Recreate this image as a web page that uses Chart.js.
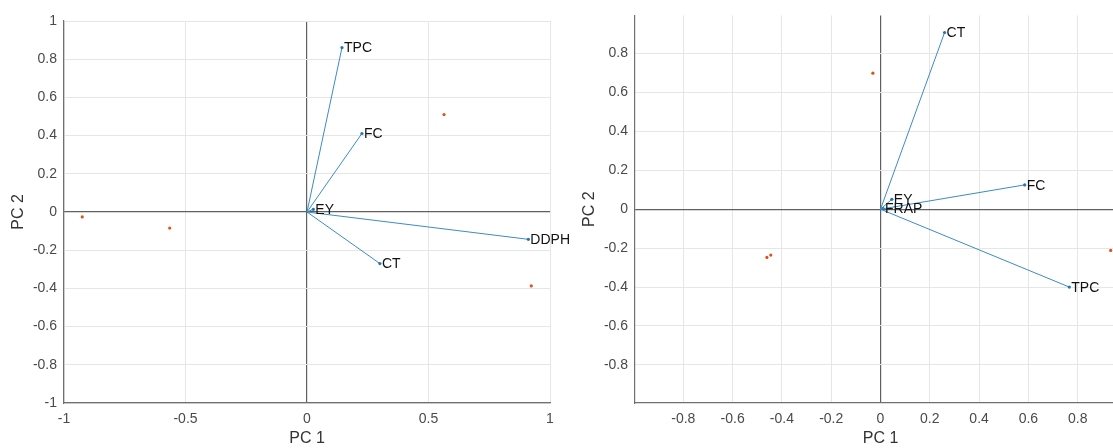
<!DOCTYPE html>
<html>
<head>
<meta charset="utf-8">
<script src="https://cdn.jsdelivr.net/npm/chart.js@4.4.1/dist/chart.umd.min.js"></script>
<style>
  html, body { margin: 0; padding: 0; background: #fff; overflow: hidden; }
  #wrap { position: relative; width: 1113px; height: 448px; overflow: hidden; }
  canvas { position: absolute; top: 0; }
  #left { left: 0; }
  #right { left: 560px; }
</style>
</head>
<body>
<div id="wrap">
  <canvas id="left" width="620" height="448"></canvas>
  <canvas id="right" width="590" height="448"></canvas>
</div>
<script>
// left biplot
const leftVarNames = ['TPC', 'FC', 'EY', 'DDPH', 'CT'];
const leftVarX = [0.144, 0.226, 0.026, 0.911, 0.300];
const leftVarY = [0.861, 0.411, 0.014, -0.143, -0.270];
const leftObsX = [-0.925, -0.565, 0.564, 0.923];
const leftObsY = [-0.026, -0.084, 0.510, -0.387];
const leftXTicks = [-1, -0.5, 0, 0.5, 1];
const leftYTicks = [-1, -0.8, -0.6, -0.4, -0.2, 0, 0.2, 0.4, 0.6, 0.8, 1];

// right biplot
const rightVarNames = ['CT', 'FC', 'EY', 'FRAP', 'TPC'];
const rightVarX = [0.260, 0.585, 0.046, 0.010, 0.766];
const rightVarY = [0.908, 0.125, 0.051, 0.005, -0.400];
const rightObsX = [-0.031, -0.461, -0.445, 0.934];
const rightObsY = [0.699, -0.248, -0.236, -0.212];
const rightXTicks = [-0.8, -0.6, -0.4, -0.2, 0, 0.2, 0.4, 0.6, 0.8];
const rightYTicks = [-0.8, -0.6, -0.4, -0.2, 0, 0.2, 0.4, 0.6, 0.8];

const BLUE = '#3a8cc4';
const RED = '#D95319';
const FONT = '"Liberation Sans", Arial, sans-serif';

const varLabels = {
    id: 'varLabels',
    afterDatasetsDraw(chart) {
        const ctx = chart.ctx;
        const names = chart.options.plugins.varLabels.names;
        ctx.save();
        ctx.font = '14px ' + FONT;
        ctx.fillStyle = '#111';
        ctx.textAlign = 'left';
        ctx.textBaseline = 'middle';
        names.forEach((name, i) => {
            const pt = chart.getDatasetMeta(i).data[1];
            ctx.fillText(name, pt.x + 2, pt.y + 1);
        });
        ctx.restore();
    }
};

function fmt(v) {
    return String(Number(v.toFixed(1)));
}

function makeBiplot(id, o) {
    const datasets = o.names.map((name, i) => ({
        label: name,
        data: [{ x: 0, y: 0 }, { x: o.vx[i], y: o.vy[i] }],
        showLine: true,
        borderColor: BLUE,
        backgroundColor: '#1f77b4',
        borderWidth: 1,
        pointRadius: [0, 1.6],
        pointBorderWidth: 0
    }));
    datasets.push({
        label: 'obs',
        data: o.ox.map((x, i) => ({ x: x, y: o.oy[i] })),
        showLine: false,
        backgroundColor: RED,
        borderColor: RED,
        pointRadius: 1.6,
        pointBorderWidth: 0
    });

    const gridColor = c => (c.tick && c.tick.value === 0) ? '#606060' : '#e6e6e6';
    const gridWidth = c => (c.tick && c.tick.value === 0) ? 1.2 : 1;

    new Chart(document.getElementById(id), {
        type: 'scatter',
        data: { datasets: datasets },
        options: {
            responsive: false,
            animation: false,
            layout: { padding: o.pad },
            plugins: {
                legend: { display: false },
                tooltip: { enabled: false },
                varLabels: { names: o.names }
            },
            scales: {
                x: {
                    min: o.xmin, max: o.xmax,
                    afterBuildTicks: s => { s.ticks = o.xt.map(v => ({ value: v })); },
                    afterFit: s => { s.height = 45; },
                    grid: { color: gridColor, lineWidth: gridWidth, drawTicks: false },
                    border: { display: true, color: '#707070', width: 1.2 },
                    ticks: { callback: fmt, padding: 8, color: '#4a4a4a', maxRotation: 0,
                             font: { family: FONT, size: 14 } },
                    title: { display: true, text: 'PC 1', color: '#333',
                             padding: { top: 0, bottom: 0 }, font: { family: FONT, size: 16 } }
                },
                y: {
                    min: o.ymin, max: o.ymax,
                    afterBuildTicks: s => { s.ticks = o.yt.map(v => ({ value: v })); },
                    afterFit: s => { s.width = o.yw; },
                    grid: { color: gridColor, lineWidth: gridWidth, drawTicks: false },
                    border: { display: true, color: '#707070', width: 1.2 },
                    ticks: { callback: fmt, padding: 7, color: '#4a4a4a',
                             font: { family: FONT, size: 14 } },
                    title: { display: true, text: 'PC 2', color: '#333',
                             padding: { top: 0, bottom: 0 }, font: { family: FONT, size: 16 } }
                }
            }
        },
        plugins: [varLabels]
    });
}

makeBiplot('left', {
    names: leftVarNames, vx: leftVarX, vy: leftVarY,
    ox: leftObsX, oy: leftObsY, xt: leftXTicks, yt: leftYTicks,
    xmin: -1, xmax: 1, ymin: -1, ymax: 1,
    pad: { left: 9, right: 70, top: 21, bottom: 0 }, yw: 55
});

makeBiplot('right', {
    names: rightVarNames, vx: rightVarX, vy: rightVarY,
    ox: rightObsX, oy: rightObsY, xt: rightXTicks, yt: rightYTicks,
    xmin: -0.996, xmax: 0.996, ymin: -0.996, ymax: 0.996,
    pad: { left: 20, right: 24, top: 15, bottom: 0 }, yw: 55
});
</script>
</body>
</html>
